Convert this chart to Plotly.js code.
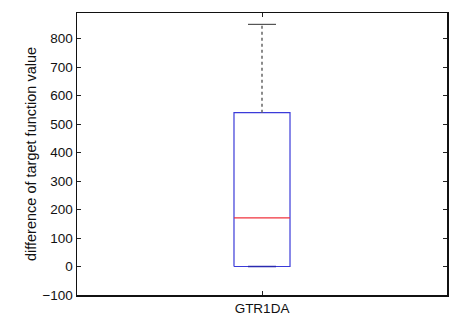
<!DOCTYPE html>
<html><head><meta charset="utf-8">
<script src="https://cdn.plot.ly/plotly-3.0.1.min.js"></script>
<style>html,body{margin:0;padding:0;background:#fff}#c{width:466px;height:316px}</style>
</head><body><div id="c"></div>
<script>
const categories = ["GTR1DA"];
const lowerWhisker = [0];
const q1 = [0];
const median = [171];
const q3 = [540];
const upperWhisker = [850];
const tickVals = [-100,0,100,200,300,400,500,600,700,800];

const pos = 1, hw = 0.0757, cw = 0.0378;
const traces = [];
// box
traces.push({x:[pos-hw,pos+hw,pos+hw,pos-hw,pos-hw], y:[q1[0],q1[0],q3[0],q3[0],q1[0]], mode:'lines', line:{color:'#3b3bd9',width:1.2}, hoverinfo:'skip'});
// median
traces.push({x:[pos-hw,pos+hw], y:[median[0],median[0]], mode:'lines', line:{color:'#f0323c',width:1.2}});
// upper whisker
traces.push({x:[pos,pos], y:[q3[0],upperWhisker[0]], mode:'lines', line:{color:'#666',width:1.5,dash:'3px,3px'}});
traces.push({x:[pos-cw,pos+cw], y:[upperWhisker[0],upperWhisker[0]], mode:'lines', line:{color:'#555',width:1.2}});
// lower whisker
traces.push({x:[pos,pos], y:[q1[0],lowerWhisker[0]], mode:'lines', line:{color:'#666',width:1.5,dash:'3px,3px'}});
traces.push({x:[pos-cw,pos+cw], y:[lowerWhisker[0],lowerWhisker[0]], mode:'lines', line:{color:'#2a2ab0',width:1.5}});

const font = {family:'Liberation Sans, Arial, sans-serif', size:13.5, color:'#111'};
Plotly.newPlot('c', traces, {
  width:466, height:316, showlegend:false,
  margin:{l:77,r:19,t:13,b:21},
  paper_bgcolor:'#fff', plot_bgcolor:'#fff', font:font,
  xaxis:{range:[0.5,1.5], tickvals:[pos], ticktext:categories, ticks:'inside', ticklen:4, tickcolor:'#222',
    showline:true, mirror:'ticks', linecolor:'#111', linewidth:1.5, showgrid:false, zeroline:false, tickfont:font},
  yaxis:{range:[-100,890], tickvals:tickVals, ticktext:tickVals.map(v=>v<0?'\u2212'+Math.abs(v):String(v)),
    ticks:'inside', ticklen:4, tickcolor:'#222', showline:true, mirror:'ticks', linecolor:'#111', linewidth:1.5,
    showgrid:false, zeroline:false, tickfont:font,
    title:{text:'difference of target function value', font:{family:font.family,size:14.5,color:'#111'}, standoff:2}}
}, {staticPlot:true});
</script></body></html>
